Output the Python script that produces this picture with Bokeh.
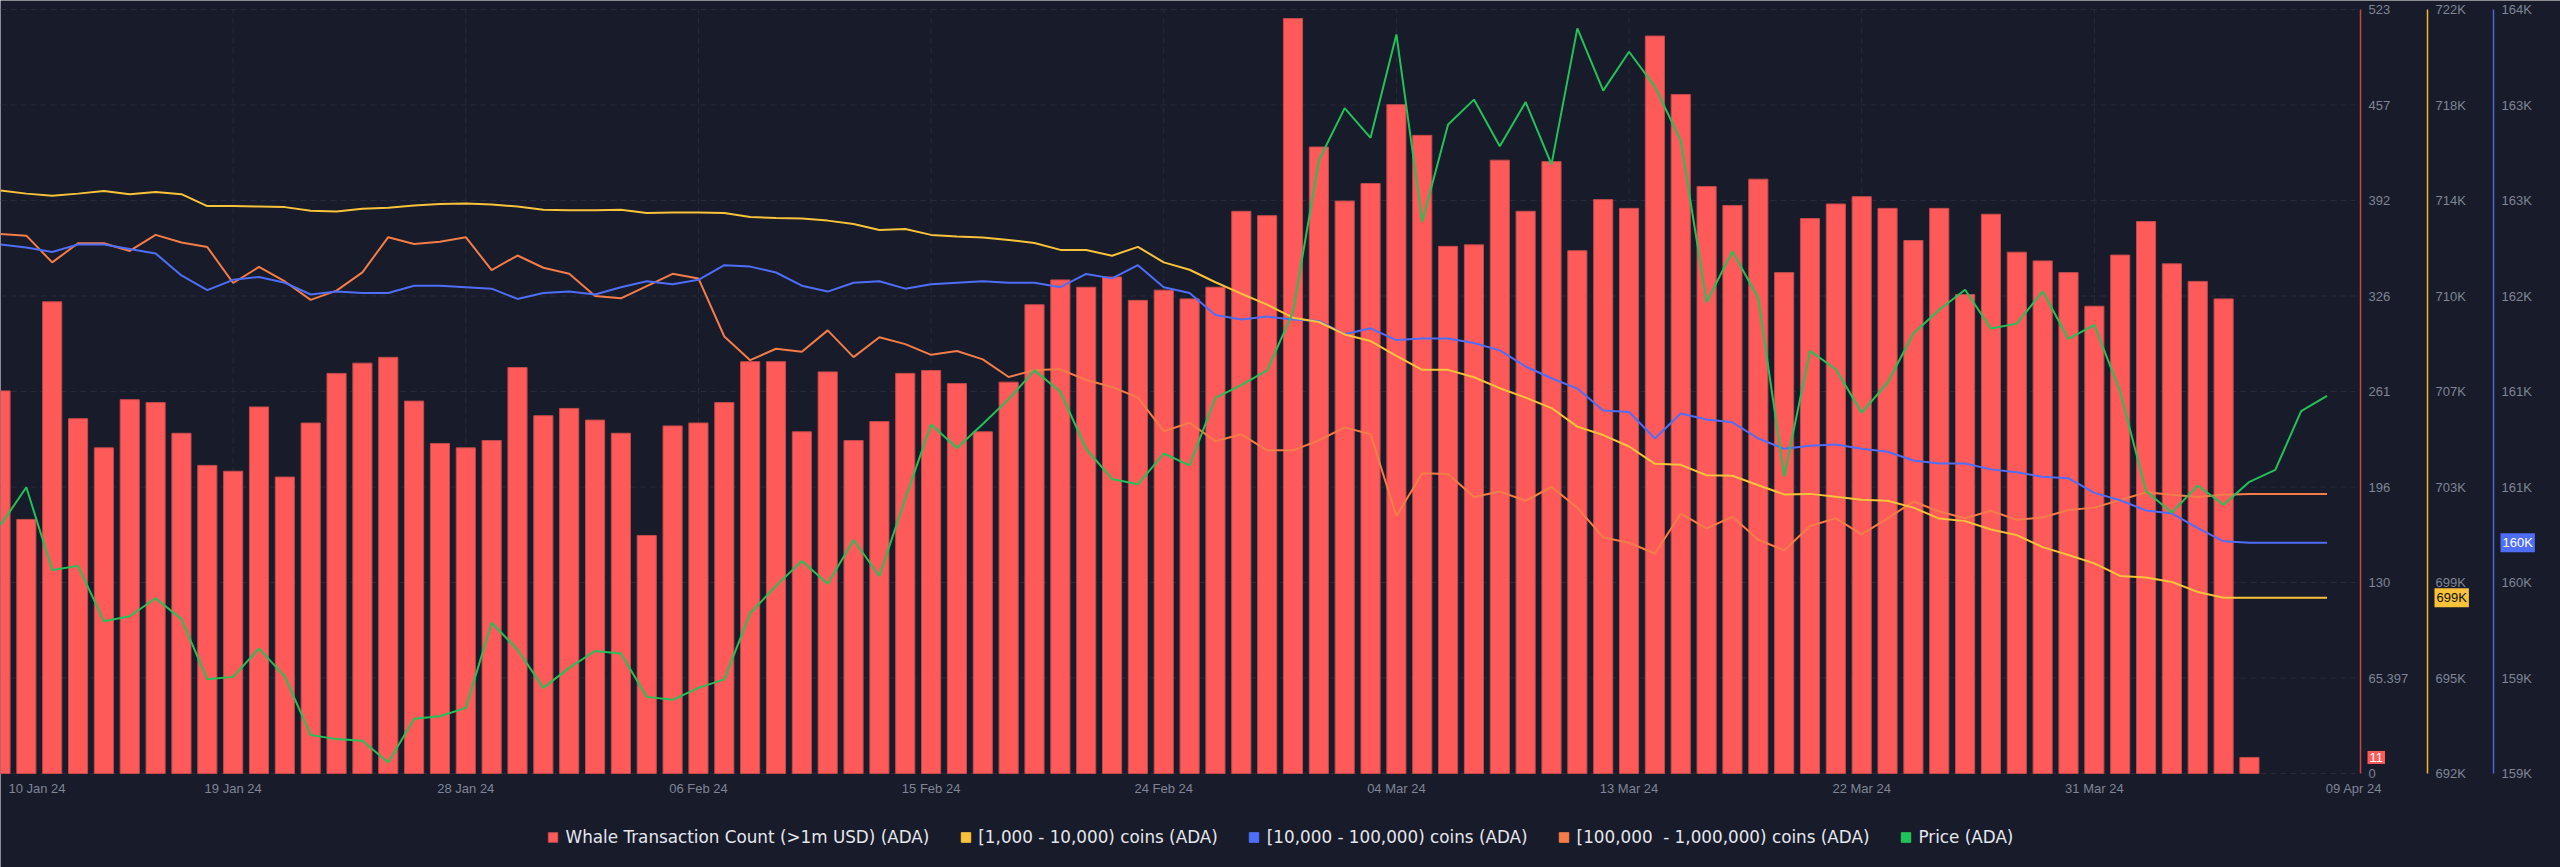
from bokeh.plotting import figure
from bokeh.models import (Range1d, LinearAxis, FixedTicker, CustomJSTickFormatter,
                          Legend, LegendItem, Label)
from bokeh.embed import file_html
from bokeh.resources import INLINE

# ---------------- data (day index 0 = 10 Jan 2024) ----------------
whale_tx = [262, 174, 323, 243, 223, 256, 254, 233, 211, 207, 251, 203, 240, 274, 281, 285,
            255, 226, 223, 228, 278, 245, 250, 242, 233, 163, 238, 240, 254, 282, 282, 234,
            275, 228, 241, 274, 276, 267, 234, 268, 321, 338, 333, 340, 324, 331, 325,
            333, 385, 382, 517, 429, 392, 404, 458, 437, 361, 362, 420, 385, 419, 358, 393,
            387, 505, 465, 402, 389, 407, 343, 380, 390, 395, 387, 365, 387, 328, 383,
            357, 351, 343, 320, 355, 378, 349, 337, 325, 11]

holders_1k_10k = [714.89, 714.77, 714.69, 714.77, 714.87, 714.75, 714.83, 714.75, 714.28, 714.28,
                  714.26, 714.24, 714.10, 714.07, 714.18, 714.22,
                  714.30, 714.36, 714.38, 714.34, 714.26, 714.14, 714.12, 714.12, 714.14, 714.01,
                  714.03, 714.03, 714.01, 713.85, 713.81, 713.79,
                  713.71, 713.58, 713.34, 713.38, 713.15, 713.09, 713.05, 712.95, 712.83, 712.56,
                  712.56, 712.33, 712.68, 712.07, 711.78,
                  711.29, 710.84, 710.41, 709.90, 709.73, 709.24, 708.98, 708.40, 707.85, 707.85,
                  707.56, 707.13, 706.76, 706.35, 705.62, 705.29,
                  704.84, 704.16, 704.12, 703.71, 703.69, 703.32, 702.96, 702.98, 702.87, 702.75,
                  702.71, 702.44, 702.01, 701.91, 701.58,
                  701.36, 700.89, 700.58, 700.25, 699.76, 699.70, 699.52, 699.13, 698.90, 698.90,
                  698.90, 698.90, 698.90]

holders_10k_100k = [162.30, 162.28, 162.25, 162.30, 162.30, 162.27, 162.24, 162.09, 161.99, 162.06,
                    162.08, 162.04, 161.96, 161.98, 161.97, 161.97,
                    162.02, 162.02, 162.01, 162.00, 161.93, 161.97, 161.98, 161.96, 162.01, 162.05,
                    162.03, 162.06, 162.16, 162.15, 162.11, 162.02,
                    161.98, 162.04, 162.05, 162.00, 162.03, 162.04, 162.05, 162.04, 162.04, 162.01,
                    162.10, 162.07, 162.16, 162.01, 161.97,
                    161.82, 161.79, 161.81, 161.79, 161.78, 161.69, 161.73, 161.65, 161.66, 161.66,
                    161.63, 161.58, 161.47, 161.39, 161.32, 161.17,
                    161.16, 160.98, 161.15, 161.11, 161.09, 160.98, 160.91, 160.93, 160.94, 160.91,
                    160.89, 160.83, 160.81, 160.81, 160.77,
                    160.75, 160.72, 160.71, 160.61, 160.56, 160.49, 160.47, 160.37, 160.28, 160.27,
                    160.27, 160.27, 160.27]

holders_100k_1m = [35.206, 35.204, 35.169, 35.194, 35.194, 35.184, 35.205, 35.195, 35.189, 35.142,
                   35.163, 35.144, 35.120, 35.132, 35.156, 35.202,
                   35.193, 35.196, 35.202, 35.159, 35.178, 35.162, 35.154, 35.125, 35.122, 35.138,
                   35.154, 35.148, 35.072, 35.041, 35.056, 35.052,
                   35.080, 35.045, 35.071, 35.062, 35.048, 35.053, 35.042, 35.019, 35.028, 35.029,
                   35.015, 35.006, 34.992, 34.948, 34.959,
                   34.935, 34.944, 34.923, 34.923, 34.936, 34.953, 34.944, 34.837, 34.893, 34.892,
                   34.862, 34.869, 34.857, 34.875, 34.848, 34.809,
                   34.802, 34.788, 34.840, 34.821, 34.836, 34.806, 34.792, 34.824, 34.834, 34.813,
                   34.834, 34.856, 34.843, 34.834, 34.844,
                   34.832, 34.835, 34.845, 34.848, 34.858, 34.868, 34.865, 34.862, 34.865, 34.866,
                   34.866, 34.866, 34.866]

price = [0.5505, 0.5674, 0.5306, 0.5324, 0.5078, 0.5100, 0.5180, 0.5087, 0.4819, 0.4830,
         0.4956, 0.4832, 0.4571, 0.4553, 0.4546, 0.4449,
         0.4644, 0.4655, 0.4692, 0.5071, 0.4952, 0.4781, 0.4870, 0.4945, 0.4934, 0.4741,
         0.4728, 0.4781, 0.4819, 0.5113, 0.5235, 0.5346,
         0.5244, 0.5439, 0.5279, 0.5623, 0.5953, 0.5849, 0.5955, 0.6066, 0.6194, 0.6099,
         0.5844, 0.5711, 0.5687, 0.5824, 0.5771,
         0.6072, 0.6128, 0.6194, 0.6453, 0.7129, 0.7361, 0.7229, 0.7689, 0.6856, 0.7288,
         0.7399, 0.7191, 0.7388, 0.7111, 0.7716, 0.7439,
         0.7612, 0.7457, 0.7217, 0.6498, 0.6724, 0.6515, 0.5722, 0.6281, 0.6199, 0.6006,
         0.6139, 0.6358, 0.6464, 0.6553, 0.6380,
         0.6402, 0.6546, 0.6334, 0.6396, 0.6099, 0.5656, 0.5561, 0.5682, 0.5596, 0.5698,
         0.5751, 0.6013, 0.6081]

date_ticks = [0, 9, 18, 27, 36, 45, 54, 63, 72, 81, 90]
date_labels = ["10 Jan 24", "19 Jan 24", "28 Jan 24", "06 Feb 24", "15 Feb 24", "24 Feb 24",
               "04 Mar 24", "13 Mar 24", "22 Mar 24", "31 Mar 24", "09 Apr 24"]

whale_ticks = [0, 65.3975, 130.795, 196.1925, 261.59, 326.9875, 392.385, 457.7825, 523.18]
whale_tick_labels = ["0", "65.397", "130", "196", "261", "326", "392", "457", "523"]
y1k_ticks = [692, 695.75, 699.5, 703.25, 707, 710.75, 714.5, 718.25, 722]
y1k_tick_labels = ["692K", "695K", "699K", "703K", "707K", "710K", "714K", "718K", "722K"]
y10k_ticks = [158.7, 159.35, 160.0, 160.65, 161.3, 161.95, 162.6, 163.25, 163.9]
y10k_tick_labels = ["159K", "159K", "160K", "161K", "161K", "162K", "163K", "163K", "164K"]
y100k_extent = (34.5, 35.5)      # hidden axis (thousands of holders)
price_extent = (0.44, 0.78)      # hidden axis (USD)

series_names = ["Whale Transaction Count (>1m USD) (ADA)", "[1,000 - 10,000) coins (ADA)",
                "[10,000 - 100,000) coins (ADA)", "[100,000  - 1,000,000) coins (ADA)",
                "Price (ADA)"]

# ---------------- styling / geometry ----------------
BG = "#181b29"
GRID = "#272b3b"
TICK_TXT = "#7f8597"
RED = "#ff5a5a"
YELLOW = "#f8c23a"
BLUE = "#4f6ef7"
ORANGE = "#f47c48"
GREEN = "#22c25a"
FONT = "Liberation Sans"
PX = 25.85                      # pixels per day
W, H = 2560, 867
TOP, BOTTOM = 9, 773            # pixel rows of the value-axis extents
SPAN = BOTTOM - TOP


def padded(lo, hi):
    per_px = (hi - lo) / SPAN
    return Range1d(lo - (H - BOTTOM) * per_px, hi + TOP * per_px)


days_bar = list(range(len(whale_tx)))
days_line = list(range(len(price)))
X0, X1 = 0.0, W / PX

p = figure(width=W, height=H, x_range=Range1d(X0, X1),
           y_range=padded(whale_ticks[0], whale_ticks[-1]),
           x_axis_type=None, y_axis_type=None,
           output_backend="svg", toolbar_location=None,
           background_fill_color=BG, border_fill_color=BG, outline_line_color=None,
           min_border=0)

p.extra_y_ranges = {
    "y1k": padded(y1k_ticks[0], y1k_ticks[-1]),
    "y10k": padded(y10k_ticks[0], y10k_ticks[-1]),
    "y100k": padded(*y100k_extent),
    "price": padded(*price_extent),
}

# dashed grid lines limited to the plot area
grid_right = 2355 / PX
p.segment(x0=[X0] * len(whale_ticks), y0=whale_ticks, x1=[grid_right] * len(whale_ticks),
          y1=whale_ticks, line_color=GRID, line_dash="6 4", line_width=1)
vt = date_ticks[1:-1]
p.segment(x0=vt, y0=[whale_ticks[0]] * len(vt), x1=vt, y1=[whale_ticks[-1]] * len(vt),
          line_color=GRID, line_dash="6 4", line_width=1)

# bars
bars = p.vbar(x=days_bar, top=whale_tx, width=0.74, bottom=0,
              fill_color=RED, line_color="#c44a4a", line_width=1)

# lines
p.line(days_line, holders_100k_1m, y_range_name="y100k", line_color=ORANGE, line_width=2)
p.line(days_line, holders_10k_100k, y_range_name="y10k", line_color=BLUE, line_width=2)
p.line(days_line, holders_1k_10k, y_range_name="y1k", line_color=YELLOW, line_width=2)
p.line(days_line, price, y_range_name="price", line_color=GREEN, line_width=2)

# date axis at the bottom of the bars (first/last label anchored next to the plot edges)
label_pos = list(date_ticks)
label_pos[0] = 36.5 / PX
label_pos[-1] = 2353.5 / PX
xaxis = LinearAxis(ticker=FixedTicker(ticks=label_pos), fixed_location=whale_ticks[0],
                   formatter=CustomJSTickFormatter(args=dict(labels=date_labels),
                                                   code="return labels[index];"),
                   axis_line_color=None, major_tick_out=0, major_tick_in=0,
                   minor_tick_out=0, minor_tick_in=0, major_label_standoff=7,
                   major_label_text_color=TICK_TXT, major_label_text_font=FONT,
                   major_label_text_font_size="13px")
p.add_layout(xaxis, "below")


# value axes on the right, drawn at fixed positions
def right_axis(rng, ticks, labels, color, page_x):
    ax = LinearAxis(ticker=FixedTicker(ticks=ticks), fixed_location=page_x / PX,
                    bounds=(ticks[0], ticks[-1]),
                    formatter=CustomJSTickFormatter(args=dict(labels=labels),
                                                    code="return labels[index];"),
                    axis_line_color=color, axis_line_width=1.5,
                    major_tick_out=0, major_tick_in=0, minor_tick_out=0, minor_tick_in=0,
                    major_label_standoff=8, major_label_text_color=TICK_TXT,
                    major_label_text_font=FONT, major_label_text_font_size="13px")
    if rng is not None:
        ax.y_range_name = rng
    p.add_layout(ax, "right")
    return ax


right_axis(None, whale_ticks, whale_tick_labels, "#c8464a", 2360)
right_axis("y1k", y1k_ticks, y1k_tick_labels, "#f0b82e", 2427)
right_axis("y10k", y10k_ticks, y10k_tick_labels, "#4a66e0", 2493)

# last-value tags on the axes
p.add_layout(Label(x=2367 / PX, y=whale_tx[-1], text=str(whale_tx[-1]),
                   text_align="left", text_baseline="middle", text_color="white",
                   text_font=FONT, text_font_size="13px", background_fill_color=RED,
                   padding=2))
p.add_layout(Label(x=2434 / PX, y=holders_1k_10k[-1], y_range_name="y1k",
                   text=f"{round(holders_1k_10k[-1])}K", text_align="left",
                   text_baseline="middle", text_color="#111111", text_font=FONT,
                   text_font_size="13px", background_fill_color=YELLOW, padding=2))
p.add_layout(Label(x=2500 / PX, y=holders_10k_100k[-1], y_range_name="y10k",
                   text=f"{round(holders_10k_100k[-1])}K", text_align="left",
                   text_baseline="middle", text_color="white", text_font=FONT,
                   text_font_size="13px", background_fill_color=BLUE, padding=2))

# legend swatch proxies (square swatches; their single point is NaN so nothing is drawn)
nan = float("nan")
proxies = [p.vbar(x=[nan], top=[nan], width=0.7, fill_color=c, line_color=c)
           for c in [YELLOW, BLUE, ORANGE, GREEN]]

items = [LegendItem(label=series_names[0], renderers=[bars], index=0)]
for name, r in zip(series_names[1:], proxies):
    items.append(LegendItem(label=name, renderers=[r], index=0))

legend = Legend(items=items, orientation="horizontal", location="bottom_center",
                glyph_width=12, glyph_height=12, label_standoff=7, spacing=30,
                label_text_color="#e4e6ee", label_text_font="DejaVu Sans",
                label_text_font_size="16.8px",
                background_fill_alpha=0, border_line_color=None, padding=2, margin=20)
p.add_layout(legend, "center")

open("out.html", "w").write(file_html(p, INLINE))
